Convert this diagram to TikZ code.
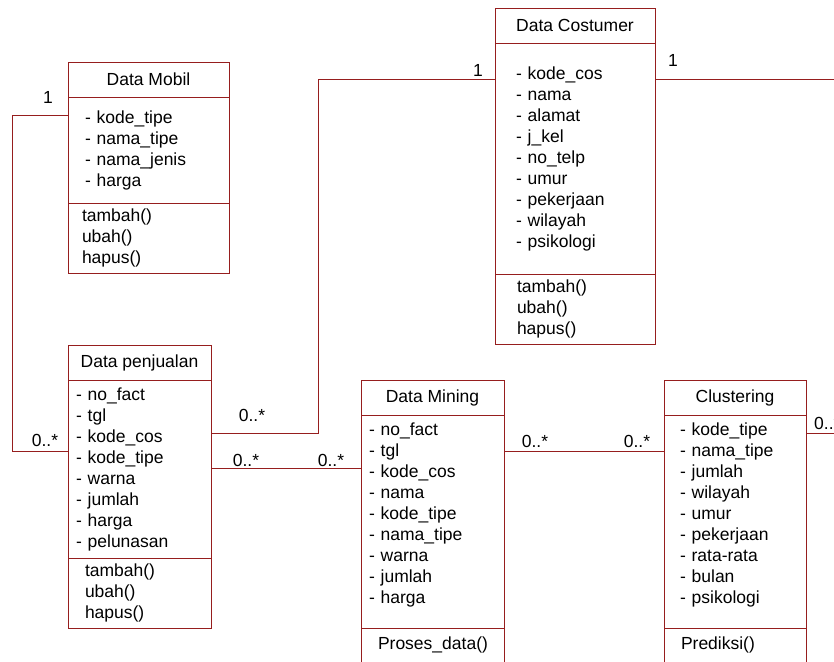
\documentclass[tikz,border=0pt]{standalone}
\usepackage{fontspec}
\setmainfont{Liberation Sans}
\usetikzlibrary{positioning}
\definecolor{garis}{RGB}{150,30,30}

\begin{document}
\begin{tikzpicture}[x=1pt,y=-1pt,
  font=\fontsize{17.5}{21}\selectfont,
  kotak/.style={draw=garis,line width=0.9pt,inner ysep=0pt,outer sep=0pt},
  judul/.style={kotak,minimum height=35,anchor=north west},
  isian/.style={kotak,align=left,below=0pt of #1},
  hubung/.style={draw=garis,line width=0.9pt},
  multi/.style={inner sep=0pt}]
\useasboundingbox (0,0) rectangle (834,661);
\clip (0,0) rectangle (834,661);
% Data Mobil
\node[judul,minimum width=161] (jdlMobil) at (68,62) {Data Mobil};
\node[isian=jdlMobil,minimum height=106,text width=127,inner xsep=17] (attrMobil)
  {- kode\_tipe\\- nama\_tipe\\- nama\_jenis\\- harga};
\node[isian=attrMobil,minimum height=70,text width=133,inner xsep=14] (opsMobil)
  {tambah()\\ubah()\\hapus()};
% Data Costumer
\node[judul,minimum width=160] (jdlCos) at (495,8) {Data Costumer};
\node[isian=jdlCos,minimum height=231,text width=118,inner xsep=21] (attrCos)
  {- kode\_cos\\- nama\\- alamat\\- j\_kel\\- no\_telp\\- umur\\- pekerjaan\\- wilayah\\- psikologi};
\node[isian=attrCos,minimum height=70,text width=116,inner xsep=22] (opsCos)
  {tambah()\\ubah()\\hapus()};
% Data penjualan
\node[judul,minimum width=143] (jdlJual) at (68,345) {Data penjualan};
\node[isian=jdlJual,minimum height=178,text width=127,inner xsep=8] (attrJual)
  {- no\_fact\\- tgl\\- kode\_cos\\- kode\_tipe\\- warna\\- jumlah\\- harga\\- pelunasan};
\node[isian=attrJual,minimum height=70,text width=109,inner xsep=17] (opsJual)
  {tambah()\\ubah()\\hapus()};
% Data Mining
\node[judul,minimum width=143] (jdlMining) at (361,380) {Data Mining};
\node[isian=jdlMining,minimum height=213,text width=127,inner xsep=8] (attrMining)
  {- no\_fact\\- tgl\\- kode\_cos\\- nama\\- kode\_tipe\\- nama\_tipe\\- warna\\- jumlah\\- harga\\[-5pt]\null};
\node[isian=attrMining,minimum height=34,text width=109,inner xsep=17] (opsMining)
  {Proses\_data()};
% Clustering
\node[judul,minimum width=142] (jdlClus) at (664,380) {Clustering};
\node[isian=jdlClus,minimum height=213,text width=110,inner xsep=16] (attrClus)
  {- kode\_tipe\\- nama\_tipe\\- jumlah\\- wilayah\\- umur\\- pekerjaan\\- rata-rata\\- bulan\\- psikologi\\[-5pt]\null};
\node[isian=attrClus,minimum height=34,text width=108,inner xsep=17] (opsClus)
  {Prediksi()};
% ujung garis di tepi kanan
\coordinate (ujungCos) at (834,79);
\coordinate (ujungClus) at (834,433);
% relasi
\draw[hubung] ([yshift=-18pt]attrMobil.north west) -- ++(-56,0) |- ([yshift=-71pt]attrJual.north west);
\draw[hubung] ([yshift=-53pt]attrJual.north east) -- ++(107,0) |- ([yshift=-36pt]attrCos.north west);
\draw[hubung] ([yshift=-36pt]attrCos.north east) -- (ujungCos);
\draw[hubung] ([yshift=-88pt]attrJual.north east) -- ([yshift=-53pt]attrMining.north west);
\draw[hubung] ([yshift=-36pt]attrMining.north east) -- ([yshift=-36pt]attrClus.north west);
\draw[hubung] ([yshift=-18pt]attrClus.north east) -- (ujungClus);
% multiplisitas
\node[multi] (mMobil) at (48,97) {1};
\node[multi] (mJualKiri) at (45,440) {0..*};
\node[multi] (mCosKiri) at (478,70) {1};
\node[multi] (mCosKanan) at (673,60) {1};
\node[multi] (mJualAtas) at (252,415) {0..*};
\node[multi] (mJualBawah) at (246,460) {0..*};
\node[multi] (mMiningKiri) at (331,460) {0..*};
\node[multi] (mMiningKanan) at (535,441) {0..*};
\node[multi] (mClusKiri) at (637,441) {0..*};
\node[multi,anchor=west] (mClusKanan) at (814,423) {0..*};
\end{tikzpicture}
\end{document}
